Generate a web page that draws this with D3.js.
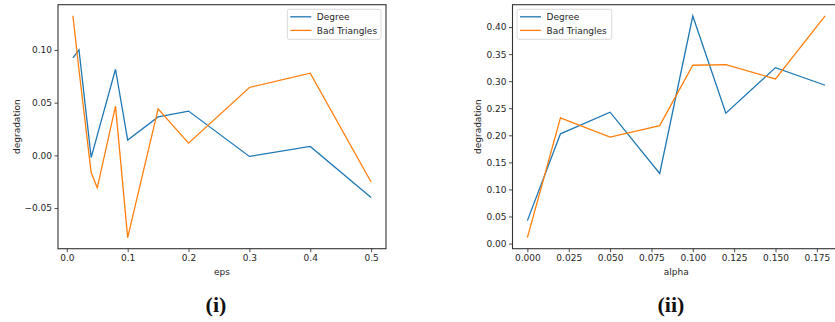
<!DOCTYPE html>
<html>
<head>
<meta charset="utf-8">
<script src="https://cdn.jsdelivr.net/npm/d3@7"></script>
<style>
  body { margin: 0; background: #fff; }
  svg { display: block; }
  text { font-family: "DejaVu Sans", sans-serif; fill: #262626; }
</style>
</head>
<body>
<script>
// panel (i): degradation vs eps
const eps = [0.01, 0.02, 0.04, 0.05, 0.08, 0.1, 0.15, 0.2, 0.3, 0.4, 0.5];
const epsDegree = [0.0925, 0.100, -0.002, 0.019, 0.0817, 0.0145, 0.0365, 0.042, -0.001, 0.0085, -0.040];
const epsBadTriangles = [0.1324, 0.081, -0.0163, -0.0308, 0.0467, -0.078, 0.0441, 0.0116, 0.0644, 0.0780, -0.0252];

// panel (ii): degradation vs alpha
const alpha = [0, 0.02, 0.05, 0.08, 0.1, 0.12, 0.15, 0.18];
const alphaDegree = [0.0424, 0.2028, 0.2427, 0.1296, 0.4203, 0.2409, 0.325, 0.2925];
const alphaBadTriangles = [0.011, 0.2323, 0.1967, 0.218, 0.3294, 0.3305, 0.3041, 0.4208];

const epsTicks = [0, 0.1, 0.2, 0.3, 0.4, 0.5];
const epsYTicks = [-0.05, 0, 0.05, 0.10];
const alphaTicks = [0, 0.025, 0.05, 0.075, 0.1, 0.125, 0.15, 0.175];
const alphaYTicks = [0, 0.05, 0.1, 0.15, 0.2, 0.25, 0.3, 0.35, 0.4];

const seriesNames = ['Degree', 'Bad Triangles'];
const colors = ['#1f77b4', '#ff7f0e'];

const W = 835, H = 322;
const svg = d3.select('body').append('svg')
  .attr('width', W).attr('height', H);

const minus = s => s.replace('-', '\u2212');

// matplotlib style 5% margins
function padded(vals) {
  const [a, b] = d3.extent(vals);
  const m = (b - a) * 0.05;
  return [a - m, b + m];
}

function panel(opt) {
  const x = d3.scaleLinear().domain(padded(opt.xs)).range([opt.left, opt.right]);
  const y = d3.scaleLinear().domain(padded(opt.ys[0].concat(opt.ys[1]))).range([opt.bottom, opt.top]);
  const g = svg.append('g');

  const xAxis = g.append('g')
    .attr('transform', `translate(0,${opt.bottom})`)
    .call(d3.axisBottom(x).tickValues(opt.xTicks).tickFormat(d => minus(d3.format(opt.xFmt)(d))).tickSize(3.5).tickPadding(2.5));
  const yAxis = g.append('g')
    .attr('transform', `translate(${opt.left},0)`)
    .call(d3.axisLeft(y).tickValues(opt.yTicks).tickFormat(d => minus(d3.format(opt.yFmt)(d))).tickSize(3.5).tickPadding(2.5));
  [xAxis, yAxis].forEach(a => {
    a.select('.domain').remove();
    a.selectAll('line').attr('stroke', '#222').attr('stroke-width', 0.8);
    a.selectAll('text').style('font-size', '9px').style('fill', '#262626')
      .style('font-family', '"DejaVu Sans", sans-serif');
  });

  const line = d3.line().x(d => x(d[0])).y(d => y(d[1]));
  opt.ys.forEach((vals, i) => {
    g.append('path')
      .datum(opt.xs.map((v, k) => [v, vals[k]]))
      .attr('d', line)
      .attr('fill', 'none')
      .attr('stroke', colors[i])
      .attr('stroke-width', 1.3)
      .attr('stroke-linejoin', 'miter');
  });

  g.append('rect')
    .attr('x', opt.left).attr('y', opt.top)
    .attr('width', opt.right - opt.left).attr('height', opt.bottom - opt.top)
    .attr('fill', 'none').attr('stroke', '#333').attr('stroke-width', 1.1);

  // legend
  const lg = g.append('g').attr('transform', `translate(${opt.legX},${opt.legY})`);
  lg.append('rect')
    .attr('width', opt.legW).attr('height', 30)
    .attr('rx', 2).attr('fill', '#fff').attr('fill-opacity', 0.8)
    .attr('stroke', '#d0d0d0').attr('stroke-width', 0.8);
  seriesNames.forEach((name, i) => {
    const yy = 7.5 + i * 13.6;
    lg.append('line').attr('x1', 3).attr('x2', 24).attr('y1', yy).attr('y2', yy)
      .attr('stroke', colors[i]).attr('stroke-width', 1.3);
    lg.append('text').attr('x', 29.5).attr('y', yy).attr('dy', '0.35em')
      .style('font-size', '9px').text(name);
  });

  g.append('text')
    .attr('x', (opt.left + opt.right) / 2).attr('y', 275)
    .attr('text-anchor', 'middle').style('font-size', '9px')
    .text(opt.xLabel);
  g.append('text')
    .attr('transform', `translate(${opt.yLabelX},${(opt.top + opt.bottom) / 2}) rotate(-90)`)
    .attr('text-anchor', 'middle').style('font-size', '9px')
    .text('degradation');

  g.append('text')
    .attr('x', opt.capX).attr('y', 312)
    .attr('text-anchor', 'middle')
    .style('font-family', '"Liberation Serif", "DejaVu Serif", serif')
    .style('font-size', '22px').style('font-weight', 'bold').style('fill', '#111')
    .text(opt.caption);
}

panel({
  xs: eps, ys: [epsDegree, epsBadTriangles],
  left: 58, right: 386, top: 4.7, bottom: 248.7,
  xTicks: epsTicks, yTicks: epsYTicks, xFmt: '.1f', yFmt: '.2f',
  legX: 287.3, legY: 9.3, legW: 93.7,
  xLabel: 'eps', yLabelX: 19.5, capX: 216, caption: '(i)'
});

panel({
  xs: alpha, ys: [alphaDegree, alphaBadTriangles],
  left: 512.5, right: 840, top: 4.7, bottom: 248.7,
  xTicks: alphaTicks, yTicks: alphaYTicks, xFmt: '.3f', yFmt: '.2f',
  legX: 517, legY: 9.3, legW: 94.7,
  xLabel: 'alpha', yLabelX: 481, capX: 671, caption: '(ii)'
});
</script>
</body>
</html>
